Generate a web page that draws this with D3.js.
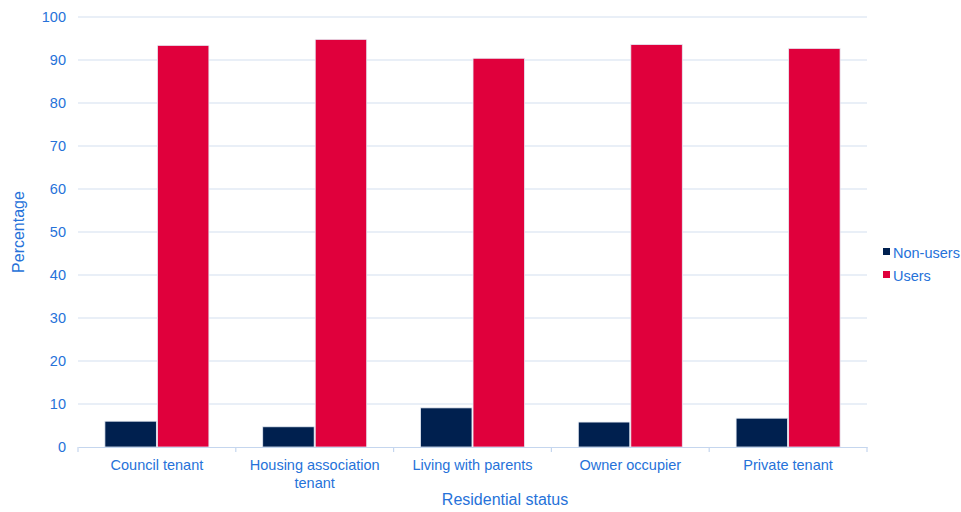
<!DOCTYPE html>
<html>
<head>
<meta charset="utf-8">
<script src="https://cdn.jsdelivr.net/npm/d3@7"></script>
<style>
  html, body { margin: 0; padding: 0; background: #ffffff; }
  svg { display: block; font-family: "Liberation Sans", Arial, sans-serif; }
</style>
</head>
<body>
<svg id="chart" width="961" height="512"></svg>
<script>
// Residential status categories (multi-line labels split on "|")
const categories = ["Council tenant", "Housing association|tenant", "Living with parents", "Owner occupier", "Private tenant"];
const seriesNames = ["Non-users", "Users"];
const nonUsers = [6.0, 4.7, 9.1, 5.8, 6.7];
const users = [93.4, 94.8, 90.4, 93.6, 92.7];
const yTicks = [0, 10, 20, 30, 40, 50, 60, 70, 80, 90, 100];
const colors = ["#00204f", "#e0003c"];
const textColor = "#2672d9";

const svg = d3.select("#chart");
const margin = { left: 78, right: 94, top: 17, bottom: 65 };
const W = 961, H = 512;
const x0 = 78, x1 = 867, yTop = 17, yBot = 447;

const x = d3.scaleBand().domain(categories).range([x0, x1]).paddingInner(0).paddingOuter(0);
const y = d3.scaleLinear().domain([0, 100]).range([yBot, yTop]);
const inner = d3.scaleBand().domain(seriesNames).range([0, 104]).paddingInner(0.02);

// Horizontal gridlines
svg.append("g")
  .selectAll("line")
  .data(yTicks.filter(d => d > 0))
  .join("line")
  .attr("x1", x0).attr("x2", x1)
  .attr("y1", d => y(d)).attr("y2", d => y(d))
  .attr("stroke", "#d3dff0").attr("stroke-width", 1.2);

// Y axis tick labels
const yAxis = svg.append("g")
  .attr("transform", `translate(${x0},0)`)
  .call(d3.axisLeft(y).tickValues(yTicks).tickSize(0).tickPadding(12));
yAxis.select(".domain").remove();
yAxis.selectAll("text")
  .attr("fill", textColor)
  .style("font-size", "14.5px")
  .style("font-family", "'Liberation Sans', Arial, sans-serif");

// Bars
const rows = categories.map((c, i) => ({ cat: c, vals: [nonUsers[i], users[i]] }));
const groups = svg.append("g").selectAll("g")
  .data(rows)
  .join("g")
  .attr("transform", d => `translate(${x(d.cat) + (x.bandwidth() - 104) / 2},0)`);
groups.selectAll("rect")
  .data(d => d.vals.map((v, j) => ({ s: seriesNames[j], v, j })))
  .join("rect")
  .attr("x", d => inner(d.s))
  .attr("width", inner.bandwidth())
  .attr("y", d => y(d.v))
  .attr("height", d => yBot - y(d.v))
  .attr("fill", d => colors[d.j])
  .attr("stroke", "#e6ecf5")
  .attr("stroke-width", 0.8);

// X axis baseline and ticks
const xAxis = svg.append("g")
  .attr("transform", `translate(0,${yBot})`)
  .call(d3.axisBottom(x).tickSize(0).tickPadding(11).tickFormat(""));
xAxis.select(".domain").attr("stroke", "#c5d6ee").attr("stroke-width", 1.2);
const boundaries = categories.map(c => x(c)).concat([x1]);
svg.append("g").selectAll("line")
  .data(boundaries)
  .join("line")
  .attr("x1", d => d).attr("x2", d => d)
  .attr("y1", yBot).attr("y2", yBot + 5)
  .attr("stroke", "#c5d6ee").attr("stroke-width", 1.2);

// Category labels
svg.append("g").selectAll("text")
  .data(categories)
  .join("text")
  .attr("x", d => x(d) + x.bandwidth() / 2)
  .attr("y", yBot + 23)
  .attr("text-anchor", "middle")
  .attr("fill", textColor)
  .style("font-size", "14.5px")
  .each(function(d) {
    const lines = d.split("|");
    d3.select(this).selectAll("tspan")
      .data(lines)
      .join("tspan")
      .attr("x", x(d) + x.bandwidth() / 2)
      .attr("dy", (l, i) => i === 0 ? 0 : 18)
      .text(l => l);
  });

// Axis titles
svg.append("text")
  .attr("x", 505).attr("y", 505)
  .attr("text-anchor", "middle")
  .attr("fill", textColor)
  .style("font-size", "16px")
  .text("Residential status");

svg.append("text")
  .attr("transform", `translate(24,232) rotate(-90)`)
  .attr("text-anchor", "middle")
  .attr("fill", textColor)
  .style("font-size", "16px")
  .text("Percentage");

// Legend
const legend = svg.append("g").attr("transform", "translate(883,252)");
seriesNames.forEach((s, i) => {
  const g = legend.append("g").attr("transform", `translate(0,${i * 23})`);
  g.append("rect").attr("x", 0).attr("y", -4).attr("width", 7).attr("height", 7).attr("fill", colors[i]);
  g.append("text").attr("x", 10).attr("y", 5.5)
    .attr("fill", textColor).style("font-size", "14.5px").text(s);
});
</script>
</body>
</html>
